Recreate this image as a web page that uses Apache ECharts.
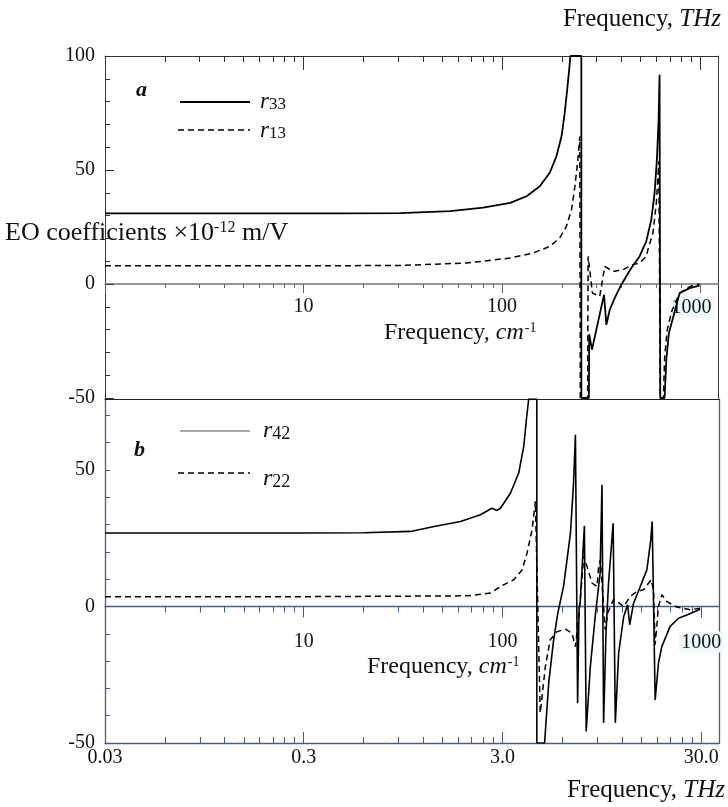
<!DOCTYPE html>
<html><head><meta charset="utf-8">
<script src="https://cdn.jsdelivr.net/npm/echarts@6/dist/echarts.min.js"></script>
<style>html,body{margin:0;padding:0;background:#fff}#c{width:728px;height:807px}</style>
</head><body><div id="c"></div>
<script>
// ---- ticks / labels ----
const majorTicks = [1, 10, 100, 1000];
const minorTicksX = [2,3,4,5,6,7,8,9,20,30,40,50,60,70,80,90,200,300,400,500,600,700,800,900];
const cmLabels = [10, 100, 1000];
const thzLabels = ['0.03', '0.3', '3.0', '30.0'];
const yRangeA = [-50, 100];
const yRangeB = [-50, 76];
const yTicksB = [-50,-40,-30,-20,-10,0,10,20,30,40,50,60,70];
const yLabelsB = [-50, 0, 50];

// ---- panel a: [frequency cm^-1, coefficient] ----
const r33 = [[1,31],[5,31],[15,31],[30.7,31.1],[54.8,32.0],[80.3,33.5],[110,35.6],[133,38.5],[155,42.9],[174,48.8],[188,56.0],[199.5,64.8],[207,75.1],[213,85.2],[218,94.0],[221,100],[251,100],[251,-50],[274,-50],[275,-22],[284,-28.8],[326.6,-4.7],[335.6,-17.9],[349,-11.3],[370,-6.1],[399,-0.3],[448,7.0],[493,12.1],[533,18.7],[565,28.2],[587,39.9],[603,54.5],[615,72],[622,91.8],[627,-50],[659,-50],[673,-33],[693,-21.5],[726,-15],[785,-4],[881,-1.8],[989,-0.7]];
const r13 = [[1,8.0],[10,8.0],[30,8.1],[66.4,9.2],[110,11.4],[143.6,13.6],[174,16.5],[195.5,20.2],[211,25.3],[224,32.6],[233,42.8],[242,56],[246.5,64.7],[248,-50],[270,-50],[271.5,12.1],[285.6,-4],[310.8,-5.4],[329.4,7.7],[362.5,5.5],[406.9,6.3],[456.8,8.5],[493,9.2],[533.5,12.1],[543,15],[576,22.4],[599,35.5],[615,51.6],[617,53.8],[627,-50],[650,-50],[660,-32],[680,-20],[716,-12],[785,-4],[881,-1.2],[989,0]];

// ---- panel b ----
const r42 = [[1,26.9],[10,26.9],[20,27.0],[34.5,27.5],[45.3,29.3],[61.5,31.1],[77.5,33.6],[88.6,36.0],[94,35.2],[97.7,36.0],[109.7,41.5],[120.8,48.9],[128,58.6],[132,68.4],[135.6,76],[149,76],[149,-50],[163,-50],[171,-28],[181,-12.2],[190,-2.4],[203,7.3],[220,26.9],[228,45.2],[233,62.9],[239,-35.4],[243,-1],[246.5,2],[258.5,29.6],[264,-45.8],[277,-22],[293,-3.7],[310,12],[317,44.6],[323,-42.7],[332,-9.8],[342,8.6],[360.7,30.5],[370,-42.7],[384.5,-17],[407.6,-3.7],[426.7,0.6],[437,-6.7],[457,1.2],[494,7.3],[533,13.4],[558,24.4],[567,31.1],[587,-34.2],[610,-20.7],[634,-14.7],[698,-7.3],[769,-4.3],[847,-3.1],[989,-1]];
const r22 = [[1,3.6],[10,3.6],[66.4,3.9],[87,4.9],[97.7,7.3],[114,9.8],[125.6,13.4],[133,19.6],[141,28.1],[146.5,38.5],[148,39],[155,-39],[164.5,-22],[174,-12.2],[188.5,-9.2],[207.6,-8.3],[224,-9.8],[233,-14.7],[237,-9.6],[246.5,2.5],[256.6,18.4],[261,18.9],[266.5,14.7],[282.4,8.6],[299,7.3],[305,14.7],[310.8,17],[316,10],[329,-8.5],[340,-2],[362.5,2.5],[377,1.8],[407,0],[440,3.7],[475,5.5],[513,6.1],[561,9.8],[576,6],[587,-14],[595,-14],[610,0],[634.6,4.3],[672,1.8],[755,-0.2],[881,-1.2],[989,-0.6]];

const FONT = "'Liberation Serif','Times New Roman',serif";
const TXT = '#111';
const BLUE = '#3a5f96';
const GA = {left: 105, top: 56, width: 614, height: 342};
const GB = {left: 105, top: 399, width: 614, height: 344};
// offset (px) that lifts a bottom axis from the grid edge to the value 0 of the y scale
const zeroOffA = -GA.height * (0 - yRangeA[0]) / (yRangeA[1] - yRangeA[0]);
const zeroOffB = -GB.height * (0 - yRangeB[0]) / (yRangeB[1] - yRangeB[0]);

function xAxisBase(grid, pos, extra) {
  return Object.assign({
    type: 'log', logBase: 10, min: 1, max: 1230, gridIndex: grid, position: pos,
    splitLine: {show: false}, minorTick: {show: false}, minorSplitLine: {show: false},
    axisLabel: {show: false}, axisTick: {show: false}, axisLine: {show: false, onZero: false}
  }, extra);
}
function tickAxis(grid, pos, values, len, inside, color, offset) {
  return xAxisBase(grid, pos, {
    offset: offset || 0,
    axisLine: {show: false, onZero: false},
    axisTick: {show: true, customValues: values, length: len, inside: inside, lineStyle: {color: color, width: 1}}
  });
}
const sup = {fontSize: 14, fontFamily: FONT, fill: TXT, color: TXT, verticalAlign: 'top', padding: [0,0,0,1]};
const labRich = {
  k: {fontSize: 20, fontFamily: FONT, color: TXT, backgroundColor: '#eefafa', padding: [1, 2, 0, 2]},
  g: {fontSize: 20, fontFamily: FONT, width: 18}
};
const labFmtA = v => (Math.round(v) === 1000 ? '{k|1000}{g| }' : String(Math.round(v)));
const labFmtB = v => (Math.round(v) === 1000 ? '{k|1000}' : String(Math.round(v)));

const option = {
  animation: false,
  backgroundColor: '#fff',
  grid: [GA, GB],
  xAxis: [
    // grid 0 : zero line with cm-1 labels
    xAxisBase(0, 'bottom', {
      offset: zeroOffA,
      axisLine: {show: true, onZero: false, lineStyle: {color: '#777', width: 1.5}},
      axisTick: {show: true, customValues: majorTicks, length: 9, inside: false, lineStyle: {color: '#666'}},
      axisLabel: {show: true, customValues: cmLabels, margin: 13, fontSize: 20, fontFamily: FONT, color: TXT,
        formatter: labFmtA, rich: labRich}
    }),
    tickAxis(0, 'bottom', minorTicksX, 4, false, '#666', zeroOffA),
    // grid 0 : top border
    xAxisBase(0, 'top', {
      axisLine: {show: true, onZero: false, lineStyle: {color: '#333', width: 1}},
      axisTick: {show: true, customValues: majorTicks, length: 14, inside: true, lineStyle: {color: '#333'}}
    }),
    tickAxis(0, 'top', minorTicksX, 6, true, '#333', 0),
    // grid 1 : zero line with cm-1 labels
    xAxisBase(1, 'bottom', {
      offset: zeroOffB,
      axisLine: {show: true, onZero: false, lineStyle: {color: BLUE, width: 1.3}},
      axisTick: {show: true, customValues: majorTicks, length: 11, inside: false, lineStyle: {color: BLUE}},
      axisLabel: {show: true, customValues: cmLabels, margin: 25, fontSize: 20, fontFamily: FONT, color: TXT,
        formatter: labFmtB, rich: labRich}
    }),
    tickAxis(1, 'bottom', minorTicksX, 6, false, BLUE, zeroOffB),
    // grid 1 : bottom THz axis
    xAxisBase(1, 'bottom', {
      axisLine: {show: true, onZero: false, lineStyle: {color: BLUE, width: 1.3}},
      axisTick: {show: true, customValues: majorTicks, length: 11, inside: true, lineStyle: {color: BLUE}},
      axisLabel: {show: true, customValues: majorTicks, margin: 5, fontSize: 20, fontFamily: FONT, color: TXT,
        formatter: v => thzLabels[Math.round(Math.log10(v))]}
    }),
    tickAxis(1, 'bottom', minorTicksX, 6, true, BLUE, 0),
    // grid 1 : top border (shared with panel a bottom)
    xAxisBase(1, 'top', {axisLine: {show: true, onZero: false, lineStyle: {color: '#222', width: 1}}})
  ],
  yAxis: [
    {type: 'value', gridIndex: 0, min: yRangeA[0], max: yRangeA[1], interval: 50, position: 'left',
      axisLine: {show: true, onZero: false, lineStyle: {color: '#333', width: 1}},
      axisTick: {show: true, inside: true, length: 9, lineStyle: {color: '#333'}},
      minorTick: {show: true, splitNumber: 5, length: 5, lineStyle: {color: '#333'}},
      splitLine: {show: false},
      axisLabel: {margin: 10, fontSize: 20, fontFamily: FONT, color: TXT}},
    {type: 'value', gridIndex: 0, min: yRangeA[0], max: yRangeA[1], position: 'right',
      axisLine: {show: true, onZero: false, lineStyle: {color: '#333', width: 1}},
      axisTick: {show: false}, axisLabel: {show: false}, splitLine: {show: false}},
    {type: 'value', gridIndex: 1, min: yRangeB[0], max: yRangeB[1], position: 'left',
      axisLine: {show: true, onZero: false, lineStyle: {color: BLUE, width: 1.3}},
      axisTick: {show: true, inside: true, length: 5, customValues: yTicksB, lineStyle: {color: BLUE}},
      splitLine: {show: false},
      axisLabel: {customValues: yLabelsB, margin: 10, fontSize: 20, fontFamily: FONT, color: TXT}},
    {type: 'value', gridIndex: 1, min: yRangeB[0], max: yRangeB[1], position: 'right',
      axisLine: {show: true, onZero: false, lineStyle: {color: BLUE, width: 1.3}},
      axisTick: {show: false}, axisLabel: {show: false}, splitLine: {show: false}}
  ],
  series: [
    {name: 'r33', type: 'line', xAxisIndex: 0, yAxisIndex: 0, data: r33, showSymbol: false, symbol: 'none',
      lineStyle: {color: '#000', width: 1.8}, clip: true, z: 3},
    {name: 'r13', type: 'line', xAxisIndex: 0, yAxisIndex: 0, data: r13, showSymbol: false, symbol: 'none',
      lineStyle: {color: '#000', width: 1.5, type: [6, 4]}, clip: true, z: 3},
    {name: 'r42', type: 'line', xAxisIndex: 4, yAxisIndex: 2, data: r42, showSymbol: false, symbol: 'none',
      lineStyle: {color: '#000', width: 1.6}, clip: true, z: 3},
    {name: 'r22', type: 'line', xAxisIndex: 4, yAxisIndex: 2, data: r22, showSymbol: false, symbol: 'none',
      lineStyle: {color: '#000', width: 1.5, type: [6, 4]}, clip: true, z: 3}
  ],
  graphic: [
    {type: 'text', x: 721, y: 19, style: {text: 'Frequency, {i|THz}', font: '25px ' + FONT, fill: TXT,
      textAlign: 'right', textVerticalAlign: 'middle', rich: {i: {fontStyle: 'italic', fontSize: 25, fontFamily: FONT, fill: TXT}}}},
    {type: 'text', x: 725, y: 790, style: {text: 'Frequency, {i|THz}', font: '25px ' + FONT, fill: TXT,
      textAlign: 'right', textVerticalAlign: 'middle', rich: {i: {fontStyle: 'italic', fontSize: 25, fontFamily: FONT, fill: TXT}}}},
    {type: 'text', x: 384, y: 333, style: {text: 'Frequency, {i|cm}{s|-1}', font: '24px ' + FONT, fill: TXT,
      textVerticalAlign: 'middle', rich: {i: {fontStyle: 'italic', fontSize: 24, fontFamily: FONT, fill: TXT}, s: sup}}},
    {type: 'text', x: 367, y: 667, style: {text: 'Frequency, {i|cm}{s|-1}', font: '24px ' + FONT, fill: TXT,
      textVerticalAlign: 'middle', rich: {i: {fontStyle: 'italic', fontSize: 24, fontFamily: FONT, fill: TXT}, s: sup}}},
    {type: 'text', x: 5, y: 233, style: {text: 'EO coefficients ×10{s|-12} m/V', font: '26px ' + FONT, fill: TXT,
      textVerticalAlign: 'middle', rich: {s: {fontSize: 16, fontFamily: FONT, fill: TXT, verticalAlign: 'top'}}}},
    {type: 'text', x: 136, y: 90, style: {text: 'a', font: 'italic bold 22px ' + FONT, fill: TXT, textVerticalAlign: 'middle'}},
    {type: 'text', x: 134, y: 450, style: {text: 'b', font: 'italic bold 22px ' + FONT, fill: TXT, textVerticalAlign: 'middle'}},
    {type: 'line', shape: {x1: 180, y1: 102, x2: 250, y2: 102}, style: {stroke: '#000', lineWidth: 1.8}},
    {type: 'line', shape: {x1: 178, y1: 130, x2: 250, y2: 130}, style: {stroke: '#000', lineWidth: 1.5, lineDash: [6, 4]}},
    {type: 'line', shape: {x1: 180, y1: 431, x2: 250, y2: 431}, style: {stroke: '#555', lineWidth: 1.2}},
    {type: 'line', shape: {x1: 178, y1: 473, x2: 250, y2: 473}, style: {stroke: '#000', lineWidth: 1.5, lineDash: [6, 4]}},
    {type: 'text', x: 260, y: 102, style: {text: '{r|r}{n|33}', textVerticalAlign: 'middle',
      rich: {r: {fontStyle: 'italic', fontSize: 23, fontFamily: FONT, fill: TXT}, n: {fontSize: 17, fontFamily: FONT, fill: TXT, verticalAlign: 'bottom'}}}},
    {type: 'text', x: 260, y: 131, style: {text: '{r|r}{n|13}', textVerticalAlign: 'middle',
      rich: {r: {fontStyle: 'italic', fontSize: 23, fontFamily: FONT, fill: TXT}, n: {fontSize: 17, fontFamily: FONT, fill: TXT, verticalAlign: 'bottom'}}}},
    {type: 'text', x: 263, y: 431, style: {text: '{r|r}{n|42}', textVerticalAlign: 'middle',
      rich: {r: {fontStyle: 'italic', fontSize: 24, fontFamily: FONT, fill: TXT}, n: {fontSize: 18, fontFamily: FONT, fill: TXT, verticalAlign: 'bottom'}}}},
    {type: 'text', x: 263, y: 479, style: {text: '{r|r}{n|22}', textVerticalAlign: 'middle',
      rich: {r: {fontStyle: 'italic', fontSize: 24, fontFamily: FONT, fill: TXT}, n: {fontSize: 18, fontFamily: FONT, fill: TXT, verticalAlign: 'bottom'}}}}
  ]
};
const chart = echarts.init(document.getElementById('c'), null, {renderer: 'canvas'});
chart.setOption(option);
</script></body></html>
